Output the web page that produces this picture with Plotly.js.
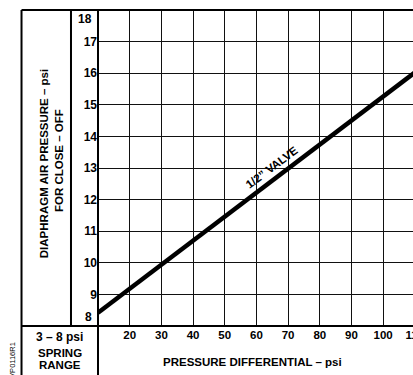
<!DOCTYPE html>
<html>
<head>
<meta charset="utf-8">
<script src="https://cdn.plot.ly/plotly-3.0.1.min.js"></script>
<style>
html, body { margin: 0; padding: 0; overflow: hidden; background: #fff; }
#chart { width: 423px; height: 375px; }
</style>
</head>
<body>
<div id="chart"></div>
<script>
// Data
const pressureDifferential = [10, 111];          // psi
const diaphragmPressure = [8.42, 16.10];         // psi for close-off (1/2" valve)
const xTickVals = [20, 30, 40, 50, 60, 70, 80, 90, 100, 110];
const xTickText = ['20', '30', '40', '50', '60', '70', '80', '90', '100', '110'];
const yTickVals = [9, 10, 11, 12, 13, 14, 15, 16, 17];
const yTickText = ['9', '10', '11', '12', '13', '14', '15', '16', '17'];
const yEndLabels = ['18', '8'];
const seriesLabel = '1/2\u201D VALVE';
const xTitle = 'PRESSURE DIFFERENTIAL \u2013 psi';
const yTitleLines = ['DIAPHRAGM AIR PRESSURE \u2013 psi', 'FOR CLOSE \u2013 OFF'];
const springLines = ['3 \u2013 8 psi', 'SPRING', 'RANGE'];
const drawingCode = 'VP0116R1';

const FONT = 'Liberation Sans, Arial, Helvetica, sans-serif';
const bold = (size) => ({ family: FONT, size: size, color: '#000', weight: 'bold' });

const trace = {
  x: pressureDifferential,
  y: diaphragmPressure,
  type: 'scatter',
  mode: 'lines',
  line: { color: '#000', width: 4.5 },
  hoverinfo: 'skip',
  showlegend: false,
  cliponaxis: true
};

const L = -0.239, IN = -0.0844, BOT = -0.16;
const lineStyle = { color: '#000', width: 2 };
const shapes = [
  { type: 'line', xref: 'paper', yref: 'paper', x0: L, x1: 1.1, y0: 1, y1: 1, line: lineStyle },
  { type: 'line', xref: 'paper', yref: 'paper', x0: L, x1: 1.1, y0: 0, y1: 0, line: lineStyle },
  { type: 'line', xref: 'paper', yref: 'paper', x0: L, x1: L, y0: BOT, y1: 1, line: lineStyle },
  { type: 'line', xref: 'paper', yref: 'paper', x0: IN, x1: IN, y0: 0, y1: 1, line: lineStyle },
  { type: 'line', xref: 'paper', yref: 'paper', x0: 0, x1: 0, y0: BOT, y1: 1, line: lineStyle }
];

const ann = (o) => Object.assign({ showarrow: false, xanchor: 'center', yanchor: 'middle' }, o);
const annotations = [
  ann({ xref: 'paper', yref: 'y', x: -0.012, y: 18, xanchor: 'right', yanchor: 'top', text: yEndLabels[0], font: bold(12) }),
  ann({ xref: 'paper', yref: 'y', x: -0.012, y: 8, xanchor: 'right', yanchor: 'bottom', text: yEndLabels[1], font: bold(12) }),
  ann({ xref: 'paper', yref: 'paper', x: -0.169, y: 0.515, text: yTitleLines[0], textangle: -90, font: bold(11.5) }),
  ann({ xref: 'paper', yref: 'paper', x: -0.122, y: 0.525, text: yTitleLines[1], textangle: -90, font: bold(11.5) }),
  ann({ xref: 'paper', yref: 'paper', x: 0.484, y: -0.114, text: xTitle, font: bold(11.5) }),
  ann({ xref: 'paper', yref: 'paper', x: -0.1203, y: -0.036, text: springLines[0], font: bold(12) }),
  ann({ xref: 'paper', yref: 'paper', x: -0.1203, y: -0.0865, text: springLines[1], font: bold(11.5) }),
  ann({ xref: 'paper', yref: 'paper', x: -0.1203, y: -0.1234, text: springLines[2], font: bold(11.5) }),
  ann({ xref: 'paper', yref: 'paper', x: -0.266, y: -0.0443, yanchor: 'top', text: drawingCode, textangle: -90, font: { family: FONT, size: 7.5, color: '#000' } }),
  ann({ xref: 'x', yref: 'y', x: 65.0, y: 13.02, text: seriesLabel, textangle: -37, font: bold(11.5) })
];

const layout = {
  width: 423,
  height: 375,
  margin: { l: 98, r: 5, t: 10, b: 49, pad: 0 },
  paper_bgcolor: '#fff',
  plot_bgcolor: '#fff',
  showlegend: false,
  xaxis: {
    range: [10, 111],
    tickmode: 'array',
    tickvals: xTickVals,
    ticktext: xTickText,
    showgrid: true,
    gridcolor: '#111',
    gridwidth: 1,
    zeroline: false,
    showline: false,
    ticks: '',
    tickfont: bold(11.5),
    ticklabeloverflow: 'allow',
    fixedrange: true
  },
  yaxis: {
    range: [8, 18],
    tickmode: 'array',
    tickvals: yTickVals,
    ticktext: yTickText,
    showgrid: true,
    gridcolor: '#111',
    gridwidth: 1,
    zeroline: false,
    showline: false,
    ticks: '',
    tickfont: bold(12),
    fixedrange: true
  },
  shapes: shapes,
  annotations: annotations
};

Plotly.newPlot('chart', [trace], layout, { staticPlot: true, displayModeBar: false });
</script>
</body>
</html>
